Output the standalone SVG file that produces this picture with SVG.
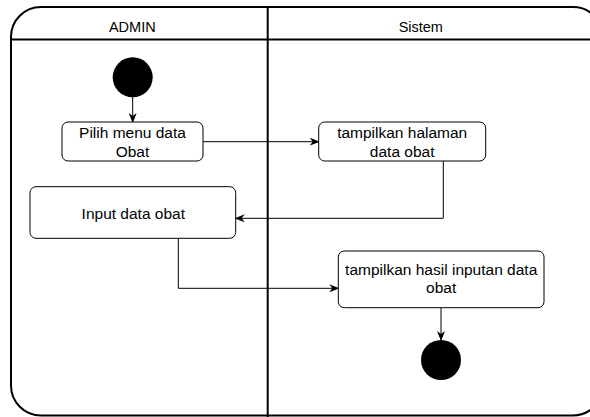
<svg xmlns="http://www.w3.org/2000/svg" width="590" height="417" viewBox="0 0 590 417">
<defs>
<style>
.lane{fill:none;stroke:#000;stroke-width:2}
.box{fill:#fff;stroke:#000;stroke-width:1}
.t{font-family:"Liberation Sans",Arial,sans-serif;font-size:15.5px;fill:#000;text-anchor:middle}
.h{font-size:14.5px}
.c{fill:none;stroke:#000;stroke-width:1}
</style>
<marker id="ah" viewBox="0 0 10 10" refX="9" refY="5" markerWidth="10" markerHeight="10" markerUnits="userSpaceOnUse" orient="auto">
<path d="M0,1 L10,5 L0,9 L3,5 Z" fill="#000"/>
</marker>
</defs>
<rect width="590" height="417" fill="#fff"/>
<g id="pool">
<rect class="lane" x="11" y="7" width="592" height="408.5" rx="30" ry="30"/>
<line class="lane" x1="11" y1="39.5" x2="590" y2="39.5"/>
<line class="lane" x1="267.7" y1="7" x2="267.7" y2="417"/>
<text class="t h" x="132.3" y="31.7">ADMIN</text>
<text class="t h" x="420.8" y="31.7">Sistem</text>
</g>
<g id="connectors">
<line class="c" x1="132.7" y1="97" x2="132.7" y2="122" marker-end="url(#ah)"/>
<line class="c" x1="203" y1="141.7" x2="318.7" y2="141.7" marker-end="url(#ah)"/>
<polyline class="c" points="443.3,161 443.3,218.3 235.7,218.3" marker-end="url(#ah)"/>
<polyline class="c" points="178.3,238.3 178.3,288.3 338.3,288.3" marker-end="url(#ah)"/>
<line class="c" x1="441" y1="307.7" x2="441" y2="340" marker-end="url(#ah)"/>
</g>
<g id="start"><circle cx="132.7" cy="77.3" r="20" fill="#000"/></g>
<g id="n1">
<rect class="box" x="62" y="122" width="141" height="39" rx="6"/>
<text class="t" x="132.5" y="137.7">Pilih menu data</text>
<text class="t" x="132.5" y="156.7">Obat</text>
</g>
<g id="n2">
<rect class="box" x="318.7" y="122" width="167" height="39" rx="6"/>
<text class="t" x="402.2" y="137.7">tampilkan halaman</text>
<text class="t" x="402.2" y="156.7">data obat</text>
</g>
<g id="n3">
<rect class="box" x="30" y="186.7" width="205.7" height="51.6" rx="6"/>
<text class="t" x="133.3" y="219">Input data obat</text>
</g>
<g id="n4">
<rect class="box" x="338.3" y="251" width="205.7" height="56.7" rx="6"/>
<text class="t" x="441.2" y="275">tampilkan hasil inputan data</text>
<text class="t" x="441.2" y="293.3">obat</text>
</g>
<g id="end"><circle cx="441" cy="360" r="20" fill="#000"/></g>
</svg>
